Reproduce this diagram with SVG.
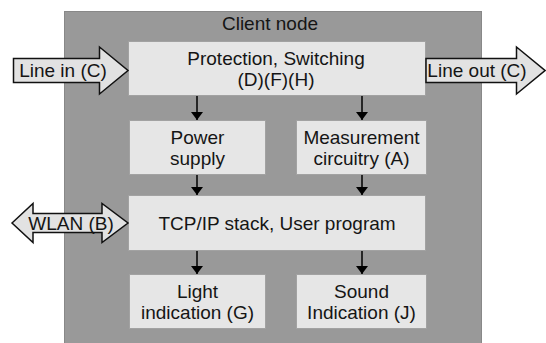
<svg xmlns="http://www.w3.org/2000/svg" width="546" height="343" viewBox="0 0 546 343">
<style>
.t{font-family:"Liberation Sans",Arial,Helvetica,sans-serif;font-size:19px;fill:#151515;text-anchor:middle}
.box{fill:#e6e6e6;stroke:#a2a2a2;stroke-width:1}
.blk{fill:#e2e2e2;stroke:#111;stroke-width:1.5;stroke-linejoin:miter}
.con{stroke:#000;stroke-width:1.5;fill:none;marker-end:url(#ah)}
</style>
<defs>
<marker id="ah" viewBox="0 0 8 12" refX="8" refY="6" markerWidth="8" markerHeight="12" markerUnits="userSpaceOnUse" orient="auto">
<path d="M0,0 L8,6 L0,12 Z" transform="rotate(0)" fill="#000"/>
</marker>
</defs>
<rect width="546" height="343" fill="#fff"/>
<g id="client">
<rect x="64.5" y="11.5" width="417" height="340" fill="#999" stroke="#888" stroke-width="1"/>
<text class="t" x="270" y="30">Client node</text>
</g>
<g id="connectors">
<line class="con" x1="197" y1="96" x2="197" y2="120"/>
<line class="con" x1="362" y1="96" x2="362" y2="120"/>
<line class="con" x1="197" y1="175" x2="197" y2="195"/>
<line class="con" x1="362" y1="175" x2="362" y2="195"/>
<line class="con" x1="197" y1="251" x2="197" y2="274"/>
<line class="con" x1="362" y1="251" x2="362" y2="274"/>
</g>
<g id="protection">
<rect class="box" x="128.5" y="41.5" width="297" height="54"/>
<text class="t" x="276" y="65">Protection, Switching</text>
<text class="t" x="276" y="86">(D)(F)(H)</text>
</g>
<g id="power">
<rect class="box" x="129.5" y="120.5" width="136" height="54"/>
<text class="t" x="197.5" y="144">Power</text>
<text class="t" x="197.5" y="165">supply</text>
</g>
<g id="measurement">
<rect class="box" x="296.5" y="120.5" width="130" height="54"/>
<text class="t" x="361.5" y="144">Measurement</text>
<text class="t" x="361.5" y="165">circuitry (A)</text>
</g>
<g id="tcpip">
<rect class="box" x="128.5" y="195.5" width="297" height="55"/>
<text class="t" x="277" y="230">TCP/IP stack, User program</text>
</g>
<g id="light">
<rect class="box" x="129.5" y="274.5" width="136" height="54"/>
<text class="t" x="197.5" y="298">Light</text>
<text class="t" x="197.5" y="319">indication (G)</text>
</g>
<g id="sound">
<rect class="box" x="296.5" y="274.5" width="130" height="54"/>
<text class="t" x="361.5" y="298">Sound</text>
<text class="t" x="361.5" y="319">Indication (J)</text>
</g>
<g id="line-in">
<path class="blk" d="M13.5,58.5 H99.5 V47 L128,70.5 L99.5,94 V82.5 H13.5 Z"/>
<text class="t" x="63" y="77">Line in (C)</text>
</g>
<g id="line-out">
<path class="blk" d="M426,58.5 H516.5 V47 L545,70.5 L516.5,94 V82.5 H426 Z"/>
<text class="t" x="477" y="77">Line out (C)</text>
</g>
<g id="wlan">
<path class="blk" d="M12,223 L33,203.5 V213.5 H102 V203.5 L128,223 L102,242.5 V232.5 H33 V242.5 Z"/>
<text class="t" x="71" y="230">WLAN (B)</text>
</g>
</svg>
